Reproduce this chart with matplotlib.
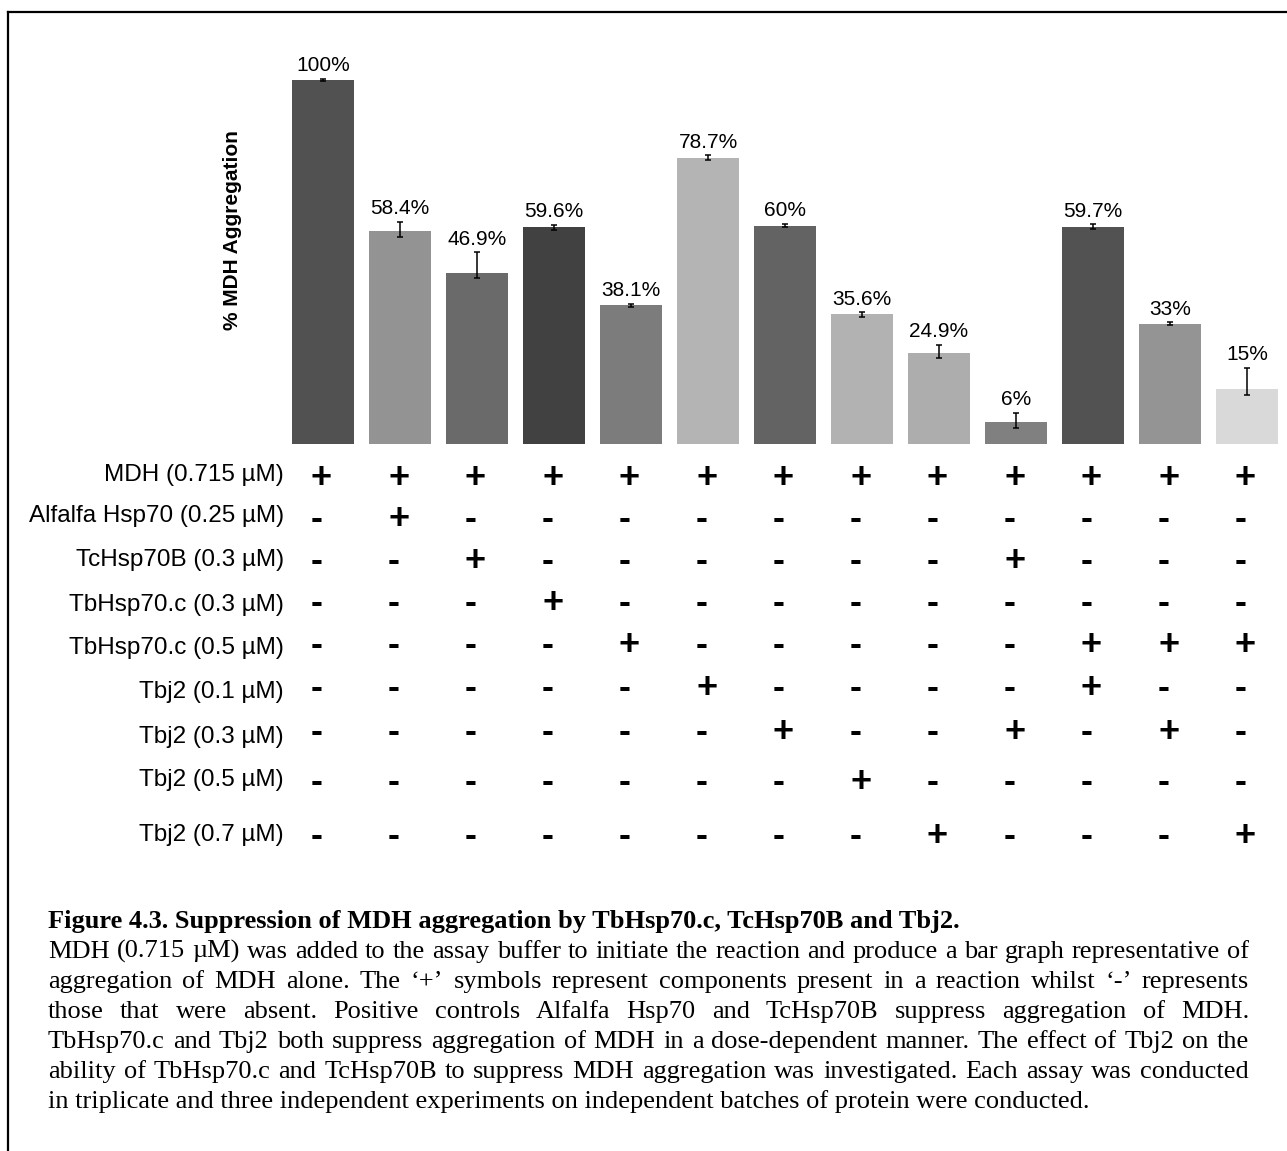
import matplotlib
matplotlib.use('Agg')
import matplotlib.pyplot as plt
from matplotlib import transforms
from matplotlib.lines import Line2D

# ---------------- data ----------------
values = [100, 58.4, 46.9, 59.6, 38.1, 78.7, 60, 35.6, 24.9, 6, 59.7, 33, 15]
value_labels = ['100%', '58.4%', '46.9%', '59.6%', '38.1%', '78.7%', '60%',
                '35.6%', '24.9%', '6%', '59.7%', '33%', '15%']
err_low = [0.4, 1.4, 1.4, 0.7, 0.4, 0.6, 0.5, 0.6, 1.4, 1.5, 0.7, 0.4, 1.5]
err_high = [0.4, 2.7, 5.8, 0.7, 0.4, 0.6, 0.5, 0.6, 2.4, 2.6, 0.7, 0.4, 5.9]
bar_colors = ['#515151', '#939393', '#6a6a6a', '#414141', '#7c7c7c', '#b4b4b4',
              '#636363', '#b2b2b2', '#adadad', '#808080', '#525252', '#949494',
              '#d9d9d9']
components = ['MDH (0.715 µM)', 'Alfalfa Hsp70 (0.25 µM)', 'TcHsp70B (0.3 µM)',
              'TbHsp70.c (0.3 µM)', 'TbHsp70.c (0.5 µM)', 'Tbj2 (0.1 µM)',
              'Tbj2 (0.3 µM)', 'Tbj2 (0.5 µM)', 'Tbj2 (0.7 µM)']
presence = ['+++++++++++++',
            '-+-----------',
            '--+------+---',
            '---+---------',
            '----+-----+++',
            '-----+----+--',
            '------+--+-+-',
            '-------+-----',
            '--------+---+']
y_label = '% MDH Aggregation'
caption_title = 'Figure 4.3. Suppression of MDH aggregation by TbHsp70.c, TcHsp70B and Tbj2.'
caption_lines = [
    'MDH (0.715 µM) was added to the assay buffer to initiate the reaction and produce a bar graph representative of',
    'aggregation of MDH alone. The \u2018+\u2019 symbols represent components present in a reaction whilst \u2018-\u2019 represents',
    'those that were absent. Positive controls Alfalfa Hsp70 and TcHsp70B suppress aggregation of MDH.',
    'TbHsp70.c and Tbj2 both suppress aggregation of MDH in a dose-dependent manner. The effect of Tbj2 on the',
    'ability of TbHsp70.c and TcHsp70B to suppress MDH aggregation was investigated. Each assay was conducted',
    'in triplicate and three independent experiments on independent batches of protein were conducted.',
]

# ---------------- layout ----------------
W, H, DPI = 1287, 1151, 100
SANS = 'Liberation Sans'
SERIF = 'Liberation Serif'

fig = plt.figure(figsize=(W / DPI, H / DPI), dpi=DPI)
fig.patch.set_facecolor('white')


def fx(px):
    return px / W


def fy(py):
    return 1 - py / H


# bar axes
x0, x1, ybase, unit, ymax = 284.5, 1285.5, 444, 3.64, 110
ax = fig.add_axes([fx(x0), fy(ybase), (x1 - x0) / W, ymax * unit / H])
xs = list(range(len(values)))
ax.bar(xs, values, width=0.805, color=bar_colors, zorder=2)
ax.errorbar(xs, values, yerr=[err_low, err_high], fmt='none', ecolor='black',
            elinewidth=1.1, capsize=2.5, capthick=1.1, zorder=3)
ax.set_xlim(-0.5, len(values) - 0.5)
ax.set_ylim(0, ymax)
ax.axis('off')
for i, (v, eh, lab) in enumerate(zip(values, err_high, value_labels)):
    ax.annotate(lab, (i, v + eh), xytext=(0, 5.5), textcoords='offset points',
                ha='center', va='baseline', fontsize=15, family=SANS)

# y label
fig.text(fx(232), fy(230), y_label, rotation=90, ha='center', va='center',
         fontsize=15, fontweight='bold', family=SANS)

# component table
label_centers = [472, 513, 557, 602, 645, 689, 734, 777, 832]
symbol_centers = [476, 517, 559, 601, 643, 686, 730, 780, 834]
lab_size = 17.5
for comp, yc in zip(components, label_centers):
    fig.text(fx(284), fy(yc + 0.358 * lab_size * DPI / 72), comp, ha='right',
             va='baseline', fontsize=lab_size, family=SANS)

sym_size = 26
sym_trans = transforms.blended_transform_factory(ax.transData, fig.transFigure) + \
    transforms.ScaledTranslation(-12 / DPI, 0, fig.dpi_scale_trans)
for row, yc in zip(presence, symbol_centers):
    for i, s in enumerate(row):
        ax.text(i, fy(yc + 0.33 * sym_size * DPI / 72), s, transform=sym_trans,
                ha='left', va='baseline', fontsize=sym_size, fontweight='bold',
                family=SANS, clip_on=False)

# caption (justified)
renderer = fig.canvas.get_renderer()
cap_size = 19
left_px, right_px = 48, 1249
title_base = 928
line_gap = 30

fig.text(fx(left_px), fy(title_base), caption_title, ha='left', va='baseline',
         fontsize=cap_size, fontweight='bold', family=SERIF)


def word_width(w):
    t = fig.text(0, 0, w, fontsize=cap_size, family=SERIF)
    wd = t.get_window_extent(renderer=renderer).width
    t.remove()
    return wd


for k, line in enumerate(caption_lines):
    base = title_base + line_gap * (k + 1)
    words = line.split(' ')
    if k == len(caption_lines) - 1:
        fig.text(fx(left_px), fy(base), line, ha='left', va='baseline',
                 fontsize=cap_size, family=SERIF)
        continue
    widths = [word_width(w) for w in words]
    gap = (right_px - left_px - sum(widths)) / (len(words) - 1)
    xpos = left_px
    for w, wd in zip(words, widths):
        fig.text(fx(xpos), fy(base), w, ha='left', va='baseline',
                 fontsize=cap_size, family=SERIF)
        xpos += wd + gap

# frame lines
fig.add_artist(Line2D([fx(8), fx(W)], [fy(12), fy(12)], color='black', lw=1.6,
                      transform=fig.transFigure))
fig.add_artist(Line2D([fx(8), fx(8)], [fy(12), fy(H)], color='black', lw=1.6,
                      transform=fig.transFigure))

fig.savefig('out.png', dpi=DPI, facecolor='white')
